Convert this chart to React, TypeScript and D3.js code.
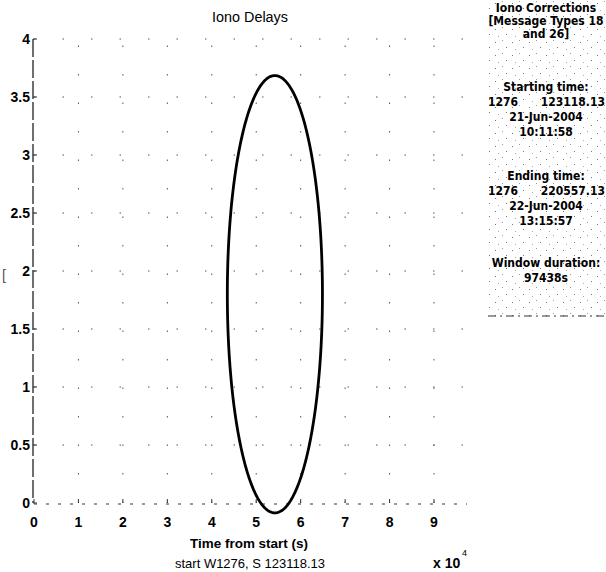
import * as d3 from "d3";

const xTicks = [0, 1, 2, 3, 4, 5, 6, 7, 8, 9];
const yTicks = [0, 0.5, 1, 1.5, 2, 2.5, 3, 3.5, 4];
const yTickLabels = ["0", "0.5", "1", "1.5", "2", "2.5", "3", "3.5", "4"];
const windowDuration = 97438;

// ellipse fitted to the iono delay trace: centre, half widths
const ellipseCenter = [54200, 1.8];
const ellipseRadius = [10700, 1.885];

const infoLines = [
  { text: "Iono Corrections", y: 8 },
  { text: "[Message Types 18", y: 21 },
  { text: "and 26]", y: 34 },
  { text: "Starting time:", y: 87 },
  { text: "21-Jun-2004", y: 117 },
  { text: "10:11:58", y: 132 },
  { text: "Ending time:", y: 176 },
  { text: "22-Jun-2004", y: 206 },
  { text: "13:15:57", y: 221 },
  { text: "Window duration:", y: 263 },
  { text: "97438s", y: 278 },
];
const infoPairs = [
  { left: "1276", right: "123118.13", y: 102 },
  { left: "1276", right: "220557.13", y: 191 },
];

export default function App() {
  const x = d3.scaleLinear().domain([0, 90000]).range([34, 434]);
  const y = d3.scaleLinear().domain([0, 4]).range([503, 39]);

  const ellipse = d3.range(0, 2 * Math.PI + 0.01, 0.02).map((t) => [
    ellipseCenter[0] + ellipseRadius[0] * Math.cos(t),
    ellipseCenter[1] + ellipseRadius[1] * Math.sin(t),
  ]);
  const line = d3
    .line<number[]>()
    .x((d) => x(d[0]))
    .y((d) => y(d[1]))
    .curve(d3.curveLinearClosed);

  const font = "'Liberation Sans', Arial, sans-serif";
  const narrow = "'DejaVu Sans Condensed', 'DejaVu Sans', sans-serif";

  return (
    <svg
      width={606}
      height={572}
      style={{ position: "absolute", left: 0, top: 0, background: "#fff" }}
    >
      <defs>
        <pattern id="stip" width="17" height="13" patternUnits="userSpaceOnUse">
          <rect x="2" y="3" width="1" height="1" fill="#777" />
          <rect x="9" y="1" width="1" height="1" fill="#999" />
          <rect x="13" y="8" width="1" height="1" fill="#777" />
          <rect x="5" y="10" width="1" height="1" fill="#aaa" />
        </pattern>
      </defs>

      {/* sparse dotted grid */}
      <g stroke="#555" strokeWidth={1} strokeDasharray="1.5 27">
        {xTicks.slice(1).map((t) => (
          <line key={"gx" + t} x1={x(t * 10000)} x2={x(t * 10000)} y1={y(0)} y2={y(4)} />
        ))}
        {yTicks.slice(1).map((t) => (
          <line key={"gy" + t} x1={x(0)} x2={x(windowDuration)} y1={y(t)} y2={y(t)} />
        ))}
      </g>

      {/* axes */}
      <line x1={33} x2={33} y1={y(4)} y2={y(0)} stroke="#222" strokeWidth={1.3} strokeDasharray="18 3" />
      <line
        x1={x(0)}
        x2={x(windowDuration)}
        y1={y(0) + 1}
        y2={y(0) + 1}
        stroke="#333"
        strokeWidth={1}
        strokeDasharray="3 9"
      />
      {yTicks.map((t) => (
        <line key={"ty" + t} x1={33} x2={37} y1={y(t)} y2={y(t)} stroke="#333" />
      ))}
      {xTicks.map((t) => (
        <line key={"tx" + t} x1={x(t * 10000)} x2={x(t * 10000)} y1={y(0)} y2={y(0) - 4} stroke="#333" />
      ))}

      <g fontFamily={font} fontSize={14} fontWeight="bold" fill="#000">
        {yTicks.map((t, i) => (
          <text key={"ly" + t} x={30} y={y(t)} dy="0.35em" textAnchor="end">
            {yTickLabels[i]}
          </text>
        ))}
        {xTicks.map((t) => (
          <text key={"lx" + t} x={x(t * 10000)} y={522} dy="0.35em" textAnchor="middle">
            {t}
          </text>
        ))}
      </g>

      {/* title and labels */}
      <text x={250} y={17} dy="0.35em" textAnchor="middle" fontFamily={font} fontSize={14} textLength={76} lengthAdjust="spacingAndGlyphs">
        Iono Delays
      </text>
      <text x={249} y={543} dy="0.35em" textAnchor="middle" fontFamily={font} fontSize={13} fontWeight="bold" textLength={118} lengthAdjust="spacingAndGlyphs">
        Time from start (s)
      </text>
      <text x={250} y={563} dy="0.35em" textAnchor="middle" fontFamily={font} fontSize={13} textLength={150} lengthAdjust="spacingAndGlyphs">
        start W1276, S 123118.13
      </text>
      <text x={433} y={563} dy="0.35em" fontFamily={font} fontSize={14} fontWeight="bold">
        x 10
      </text>
      <text x={462} y={553} dy="0.35em" fontFamily={font} fontSize={9}>
        4
      </text>
      <text x={2} y={275} dy="0.35em" fontFamily={font} fontSize={14} fill="#555">
        [
      </text>

      {/* delay trace */}
      <path d={line(ellipse) || ""} fill="none" stroke="#000" strokeWidth={2.8} />

      {/* info panel */}
      <rect x={486} y={0} width={120} height={318} fill="url(#stip)" />
      <line x1={488} x2={606} y1={316} y2={316} stroke="#333" strokeDasharray="8 4 2 4" />
      <g fontFamily={narrow} fontSize={12} fontWeight="bold" fill="#000">
        {infoLines.map((l) => (
          <text key={l.text} x={546} y={l.y} dy="0.35em" textAnchor="middle">
            {l.text}
          </text>
        ))}
        {infoPairs.map((p) => (
          <g key={p.right}>
            <text x={488} y={p.y} dy="0.35em">
              {p.left}
            </text>
            <text x={605} y={p.y} dy="0.35em" textAnchor="end">
              {p.right}
            </text>
          </g>
        ))}
      </g>
    </svg>
  );
}
